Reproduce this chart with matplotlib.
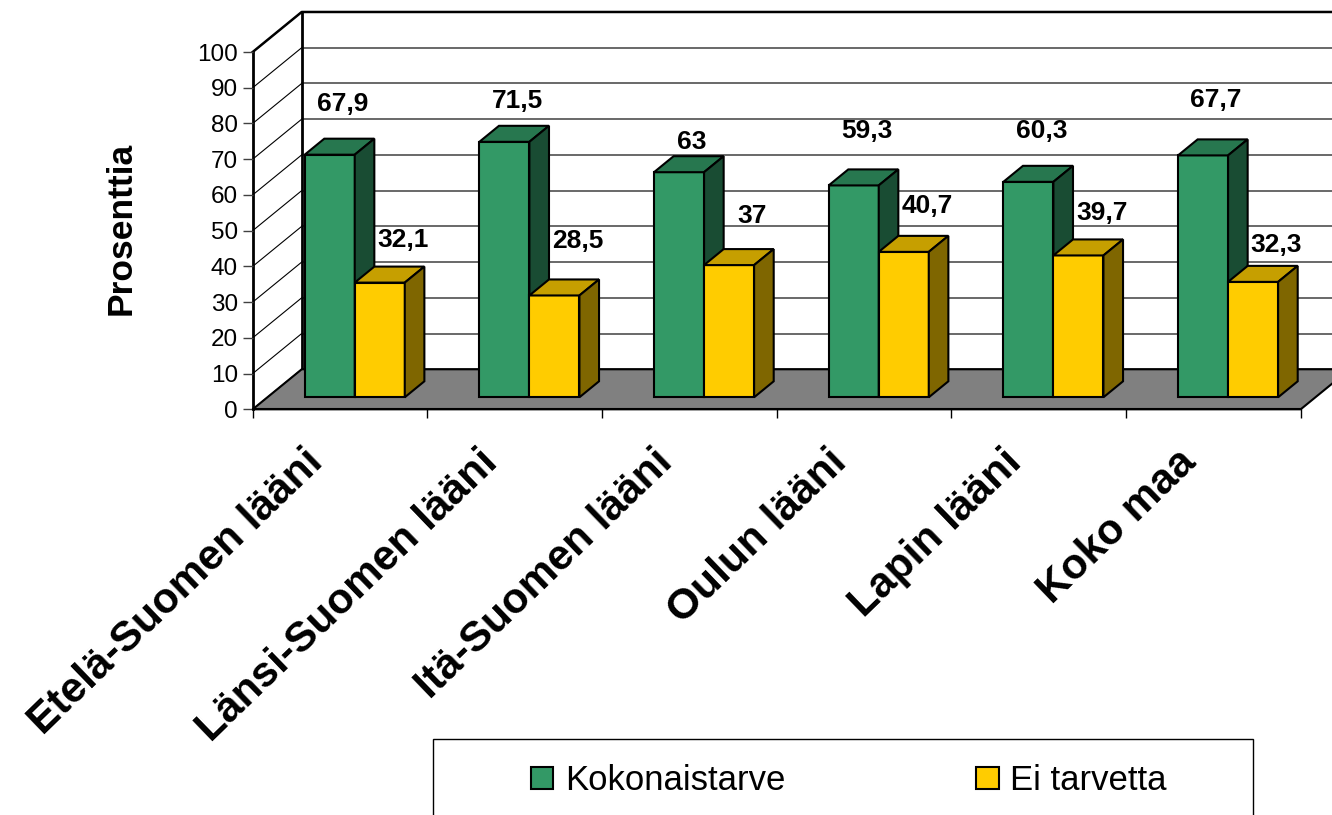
import matplotlib.pyplot as plt
from matplotlib.patches import Polygon, Rectangle, Patch

plt.rcParams['font.family'] = ['Liberation Sans', 'DejaVu Sans']

# Data
regions = ['Etelä-Suomen lääni', 'Länsi-Suomen lääni', 'Itä-Suomen lääni',
           'Oulun lääni', 'Lapin lääni', 'Koko maa']
series_names = ['Kokonaistarve', 'Ei tarvetta']
kokonaistarve = [67.9, 71.5, 63, 59.3, 60.3, 67.7]
ei_tarvetta = [32.1, 28.5, 37, 40.7, 39.7, 32.3]
yticks = list(range(0, 101, 10))

# Layout / style (label heights were placed by hand in the original)
label_y = [[85.5, 86.4, 74.9, 77.9, 77.9, 86.6],
           [47.4, 47.1, 54.1, 56.9, 55.0, 46.0]]
label_dx = [0.515, 0.86]
front = ['#339966', '#FFCC00']
DDX, DDY = 0.2805, 11.2          # full depth offset in data units
GAP, BAR_W = 0.2135, 0.2865
D0, D1 = 0.3, 0.7                # bar depth range


def shade(hex_color, f):
    r, g, b = (int(hex_color[i:i + 2], 16) for i in (1, 3, 5))
    return '#%02x%02x%02x' % (int(r * f), int(g * f), int(b * f))


def poly(ax, pts, fc, ec='black', lw=1.5, z=2):
    ax.add_patch(Polygon(pts, closed=True, facecolor=fc, edgecolor=ec,
                         linewidth=lw, zorder=z, clip_on=False))


W_PX, H_PX = 1332, 815
fig = plt.figure(figsize=(W_PX / 100, H_PX / 100), dpi=100)
ax = fig.add_axes([252.7 / W_PX, 1 - 409.3 / H_PX,
                   (1300.7 - 252.7) / W_PX, (409.3 - 52) / H_PX])
ncat = len(regions)
ax.set_xlim(0, ncat)
ax.set_ylim(0, 100)
ax.patch.set_visible(False)
for s in ['top', 'right']:
    ax.spines[s].set_visible(False)
ax.spines['left'].set_linewidth(2)
ax.spines['bottom'].set_linewidth(1.5)
ax.spines['left'].set_zorder(1)

# walls and floor
xr = ncat + DDX
poly(ax, [(0, 0), (DDX, DDY), (DDX, 100 + DDY), (0, 100)], 'white', lw=0, z=0)
for v in yticks:
    ax.plot([0, DDX], [v, v + DDY], color='black', lw=0.8, zorder=0.5, clip_on=False)
    ax.plot([DDX, xr], [v + DDY, v + DDY], color='#404040', lw=1.1,
            zorder=0.5, clip_on=False)
ax.plot([DDX, DDX], [DDY, 100 + DDY], color='black', lw=2, zorder=0.6, clip_on=False)
ax.plot([0, DDX, xr], [100, 100 + DDY, 100 + DDY], color='black', lw=1.8,
        zorder=0.6, clip_on=False)
poly(ax, [(0, 0), (ncat, 0), (ncat + DDX, DDY), (DDX, DDY)], '#808080', lw=1.5, z=0.8)

# bars
for i in range(ncat):
    for s, vals in enumerate([kokonaistarve, ei_tarvetta]):
        v = vals[i]
        x0 = i + GAP + s * BAR_W + D0 * DDX
        y0 = D0 * DDY
        bx, by = (D1 - D0) * DDX, (D1 - D0) * DDY
        c = front[s]
        poly(ax, [(x0, y0), (x0 + BAR_W, y0), (x0 + BAR_W, y0 + v), (x0, y0 + v)], c)
        poly(ax, [(x0, y0 + v), (x0 + BAR_W, y0 + v), (x0 + BAR_W + bx, y0 + v + by),
                  (x0 + bx, y0 + v + by)], shade(c, 0.78))
        poly(ax, [(x0 + BAR_W, y0), (x0 + BAR_W + bx, y0 + by),
                  (x0 + BAR_W + bx, y0 + v + by), (x0 + BAR_W, y0 + v)], shade(c, 0.5))
        ax.text(i + label_dx[s], label_y[s][i], f'{v:g}'.replace('.', ','),
                ha='center', va='center', fontsize=19, fontweight='bold', zorder=5)

# axes ticks
ax.set_yticks(yticks)
ax.tick_params(axis='y', length=7.2, width=1, color='#404040', pad=3.5, labelsize=17.5)
ax.set_xticks(range(ncat + 1))
ax.set_xticklabels([])
ax.tick_params(axis='x', length=6.5, width=1, color='black')

for i, name in enumerate(regions):
    ax.text(i + 0.5 - 37 / 174.7, -9.1, name, rotation=44, rotation_mode='anchor',
            ha='right', va='top', fontsize=30.5, fontweight='bold', clip_on=False)

fig.text(121 / W_PX, 1 - 228 / H_PX, 'Prosenttia', rotation=90, ha='center',
         va='center', fontsize=25.5, fontweight='bold')

# legend
fig.add_artist(Rectangle((433 / W_PX, -0.05), (1253 - 433) / W_PX,
                         0.05 + 1 - 739 / H_PX, transform=fig.transFigure,
                         facecolor='white', edgecolor='black', lw=1))
handles = [Patch(facecolor=front[k], edgecolor='black', lw=1.5) for k in range(2)]
fig.legend(handles, series_names, loc='center left',
           bbox_to_anchor=(531 / W_PX, 1 - 781 / H_PX), ncol=2, frameon=False,
           fontsize=25, handlelength=0.64, handleheight=0.6, handletextpad=0.34,
           columnspacing=5.5, borderpad=0, borderaxespad=0)

fig.savefig('out.png', dpi=100)
